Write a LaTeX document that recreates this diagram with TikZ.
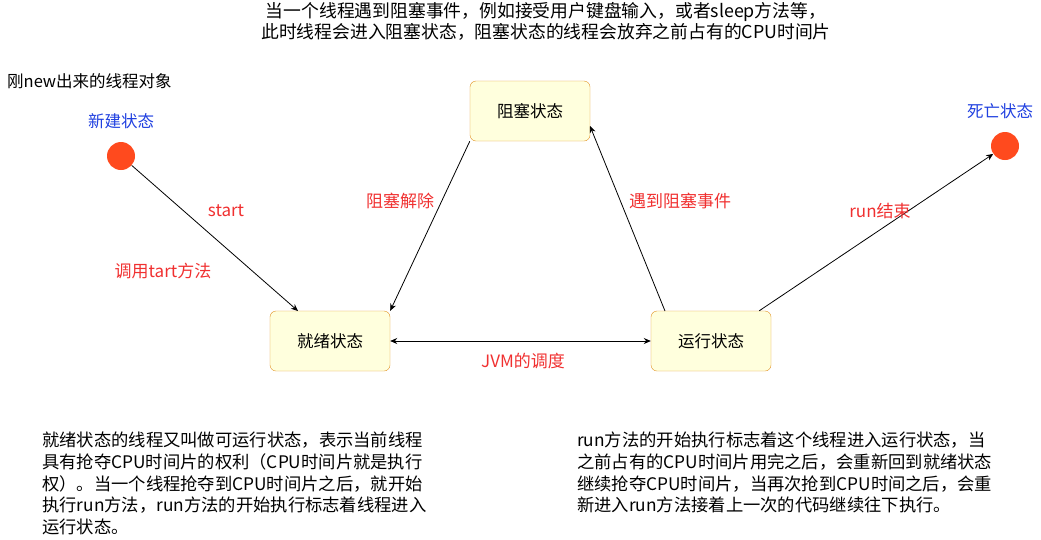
\documentclass[tikz,border=0pt]{standalone}
\usepackage{fontspec}
\setmainfont{Noto Sans CJK SC}
\usetikzlibrary{arrows.meta}
\definecolor{boxfill}{HTML}{FFFFDD}
\definecolor{boxline}{HTML}{E09020}
\definecolor{lblred}{HTML}{F03030}
\definecolor{lblblue}{HTML}{2040E0}
\definecolor{dotred}{HTML}{FF4A1E}
\tikzset{x=1pt,y=-1pt,
 state/.style={draw=boxline,fill=boxfill,rounded corners=6pt,minimum width=120pt,minimum height=60pt,font=\fontsize{16.5}{18}\selectfont},
 dot/.style={circle,fill=dotred,minimum size=28pt,inner sep=0},
 red lbl/.style={text=lblred,font=\fontsize{17}{18}\selectfont},
 blue lbl/.style={text=lblblue,font=\fontsize{16.5}{18}\selectfont},
 txt/.style={font=\fontsize{17.3}{21.6}\selectfont,align=left,anchor=north west,inner sep=0},
 arr/.style={-{Stealth[length=7pt,width=6pt]},line width=0.8pt}}
\begin{document}
\begin{tikzpicture}
\useasboundingbox (0,0) rectangle (1041,539);
\node[font=\fontsize{17.8}{21}\selectfont,align=center] (top) at (546,21) {当一个线程遇到阻塞事件，例如接受用户键盘输入，或者sleep方法等，\\此时线程会进入阻塞状态，阻塞状态的线程会放弃之前占有的CPU时间片};
\node[anchor=west,inner sep=0,font=\fontsize{16.5}{18}\selectfont] (newobj) at (7,81) {刚new出来的线程对象};
\node[state] (block) at (530,111) {阻塞状态};
\node[state] (ready) at (330,341) {就绪状态};
\node[state] (run) at (711,341) {运行状态};
\node[dot] (new) at (121,156) {};
\node[blue lbl] (newl) at (121,121) {新建状态};
\node[dot] (dead) at (1005,146) {};
\node[blue lbl] (deadl) at (1000,111) {死亡状态};
\draw[arr] (new) -- (298,311);
\draw[arr] (block.south west) -- (ready.north east);
\draw[arr] (665,311) -- (590,126);
\draw[arr] (run.north east) ++(-12,0) -- (dead);
\draw[arr,{Stealth[length=7pt,width=6pt]}-{Stealth[length=7pt,width=6pt]}] (ready) -- (run);
\node[red lbl] (l1) at (226,211) {start};
\node[red lbl] (l2) at (163,271) {调用tart方法};
\node[red lbl] (l3) at (400,201) {阻塞解除};
\node[red lbl] (l4) at (680,201) {遇到阻塞事件};
\node[red lbl] (l5) at (880,211) {run结束};
\node[red lbl] (l6) at (523,361) {JVM的调度};
\node[txt] (lt) at (42,432) {就绪状态的线程又叫做可运行状态，表示当前线程\\具有抢夺CPU时间片的权利（CPU时间片就是执行\\权）。当一个线程抢夺到CPU时间片之后，就开始\\执行run方法，run方法的开始执行标志着线程进入\\运行状态。};
\node[txt] (rt) at (577,432) {run方法的开始执行标志着这个线程进入运行状态，当\\之前占有的CPU时间片用完之后，会重新回到就绪状态\\继续抢夺CPU时间片，当再次抢到CPU时间之后，会重\\新进入run方法接着上一次的代码继续往下执行。};
\end{tikzpicture}
\end{document}
